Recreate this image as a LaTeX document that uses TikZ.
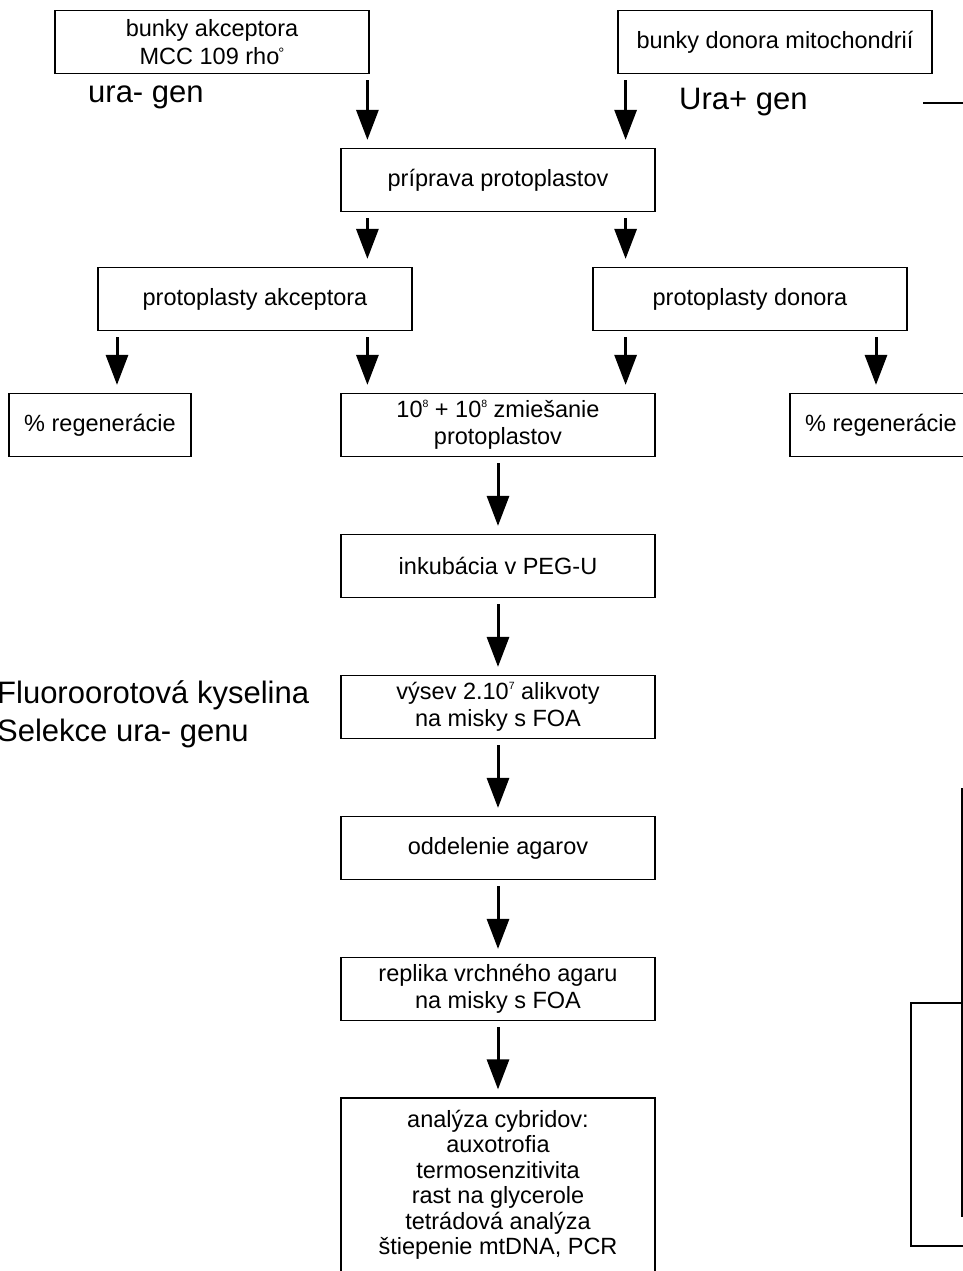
\documentclass[tikz,border=0pt]{standalone}
\usepackage{fontspec}
\setmainfont{Liberation Sans}
\usetikzlibrary{arrows.meta}
\tikzstyle{stepBox} = [shape=rectangle, draw=black, text=black, line width=1.2pt,
	align=center, inner sep=0pt, font=\fontsize{23.5}{27.5}\selectfont]
\tikzstyle{WideBox} = [stepBox, minimum width=314pt, minimum height=63pt]
\tikzstyle{SmallBox} = [stepBox, minimum width=182pt, minimum height=63pt]
\tikzstyle{bigLabel} = [inner sep=0pt, align=left, font=\fontsize{31}{38}\selectfont]
\tikzstyle{normalArrow} = [line width=3pt, -{Triangle[width=22pt,length=30pt]},
	shorten <=6pt, shorten >=8pt]
\tikzstyle{edgeLine} = [line width=2.5pt]
\newcommand{\supnum}[1]{\raisebox{10pt}{\fontsize{10.5}{10.5}\selectfont #1}}

\begin{document}
\begin{tikzpicture}[x=1pt, y=-1pt, node distance=141pt]
  \clip (0,0) rectangle (963,1271);

  \node (ACC) [WideBox] at (212,42) {bunky akceptora\\MCC 109 rho\kern-1pt\raisebox{6pt}{\fontsize{15}{15}\selectfont\textdegree}};
  \node (DON) [WideBox] at (775,42) {bunky donora mitochondrií};
  \node (URAM) [bigLabel, anchor=base west] at (88,103) {ura- gen};
  \node (URAP) [bigLabel, anchor=base west] at (679,110) {Ura+ gen};
  \node (PREP) [WideBox] at (498,180) {príprava protoplastov};
  \node (PROTA) [WideBox] at (255,299) {protoplasty akceptora};
  \node (PROTD) [WideBox] at (750,299) {protoplasty donora};
  \node (REGL) [SmallBox] at (100,425) {\% regenerácie};
  \node (MIX) [WideBox] at (498,425) {10\supnum{8} + 10\supnum{8} zmiešanie\\protoplastov};
  \node (REGR) [SmallBox] at (881,425) {\% regenerácie};
  \node (INKUB) [WideBox, below of=MIX] {inkubácia v PEG-U};
  \node (VYSEV) [WideBox, below of=INKUB] {výsev 2.10\supnum{7} alikvoty\\na misky s FOA};
  \node (FOA) [bigLabel, anchor=north west] at (-3,680) {Fluoroorotová kyselina\\Selekce ura- genu};
  \node (ODDEL) [WideBox, below of=VYSEV] {oddelenie agarov};
  \node (REPL) [WideBox, below of=ODDEL] {replika vrchného agaru\\na misky s FOA};
  \node (ANAL) [WideBox, below of=REPL, yshift=-55pt, minimum height=174pt,
    font=\fontsize{23.5}{25.5}\selectfont] {analýza cybridov:\\auxotrofia\\termosenzitivita\\rast na glycerole\\tetrádová analýza\\štiepenie mtDNA, PCR};

  \draw [normalArrow] ([xshift=27pt]PREP.north west |- ACC.south) -- ([xshift=27pt]PREP.north west);
  \draw [normalArrow] ([xshift=-30pt]PREP.north east |- DON.south) -- ([xshift=-30pt]PREP.north east);
  \draw [normalArrow] ([xshift=27pt]PREP.south west) -- ([xshift=27pt]PREP.south west |- PROTA.north);
  \draw [normalArrow] ([xshift=-30pt]PREP.south east) -- ([xshift=-30pt]PREP.south east |- PROTD.north);
  \draw [normalArrow] ([xshift=17pt]REGL.north |- PROTA.south) -- ([xshift=17pt]REGL.north);
  \draw [normalArrow] ([xshift=27pt]MIX.north west |- PROTA.south) -- ([xshift=27pt]MIX.north west);
  \draw [normalArrow] ([xshift=-30pt]MIX.north east |- PROTD.south) -- ([xshift=-30pt]MIX.north east);
  \draw [normalArrow] ([xshift=-5pt]REGR.north |- PROTD.south) -- ([xshift=-5pt]REGR.north);
  \draw [normalArrow] (MIX) -- (INKUB);
  \draw [normalArrow] (INKUB) -- (VYSEV);
  \draw [normalArrow] (VYSEV) -- (ODDEL);
  \draw [normalArrow] (ODDEL) -- (REPL);
  \draw [normalArrow] (REPL) -- (ANAL);

  % pieces of the neighbouring figure at the right edge
  \draw [edgeLine] (923,103) -- (963,103);
  \draw [edgeLine] (962,788) -- (962,1217);
  \draw [edgeLine] (962,1003) -- (911,1003) -- (911,1246) -- (963,1246);

\end{tikzpicture}
\end{document}
